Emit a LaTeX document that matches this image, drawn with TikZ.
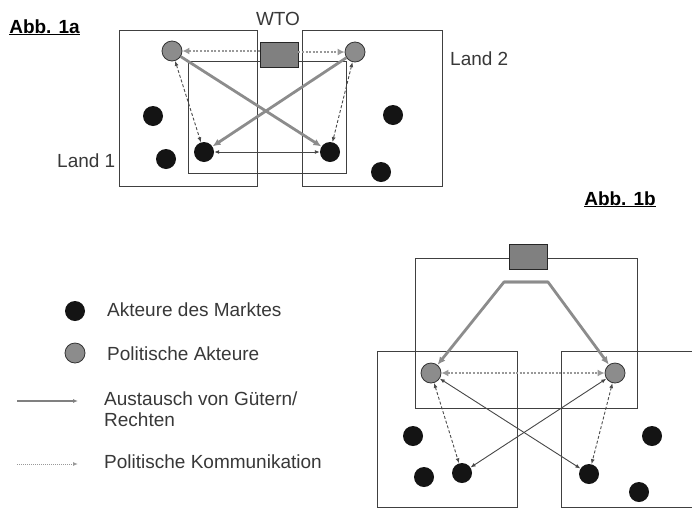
\documentclass[tikz,border=0pt]{standalone}
\usepackage{fontspec}
\setmainfont{Liberation Sans}
\usetikzlibrary{arrows.meta}

\tikzset{
  markt/.style={circle, fill=black!92, minimum size=20pt, inner sep=0pt},
  politik/.style={circle, draw=black!80, line width=0.8pt, fill=black!45, minimum size=20pt, inner sep=0pt},
  wtobox/.style={draw=black!85, line width=0.9pt, fill=black!50, minimum width=38pt, minimum height=25pt, inner sep=0pt},
  land/.style={draw=black!75, line width=1pt},
  gueter/.style={draw=black!45, line width=2.8pt, -{Latex[length=8pt,width=7pt]}},
  kommwto/.style={draw=black!40, line width=2.8pt, dash pattern=on 2pt off 1.6pt, -{Latex[length=7pt,width=7pt]}},
  komm/.style={draw=black!70, line width=0.9pt, dash pattern=on 3pt off 2pt, {Latex[length=5pt,width=4pt]}-{Latex[length=5pt,width=4pt]}},
  handel/.style={draw=black!72, line width=0.9pt, {Latex[length=5pt,width=4pt]}-{Latex[length=5pt,width=4pt]}},
  txt/.style={font=\fontsize{19}{21}\selectfont, text=black!78, inner sep=0pt},
  abb/.style={font=\fontsize{19}{22}\selectfont\bfseries, inner sep=0pt}
}

\begin{document}
\begin{tikzpicture}[x=1pt, y=-1pt]
\useasboundingbox (0,0) rectangle (692,509);

% Abb. 1a
\node[abb, anchor=base] (abbA) at (44.5,33) {\underline{Abb. 1a}};
\draw[land] (119,30) rectangle (257,186);
\draw[land] (302,30) rectangle (442,186);
\draw[land] (188,61) rectangle (346,173);
\node[wtobox] (wtoA) at (279,54.5) {};
\node[txt, anchor=base] (wtoAtext) at (278,25) {WTO};
\node[txt, anchor=base west] (land1A) at (57,167) {Land 1};
\node[txt, anchor=base west] (land2A) at (450,65) {Land 2};

\node[politik] (gA1) at (172,51) {};
\node[politik] (gA2) at (355,52) {};
\node[markt] (mA1) at (153,116) {};
\node[markt] (mA2) at (166,159) {};
\node[markt] (mA3) at (204,152) {};
\node[markt] (mA4) at (330,152) {};
\node[markt] (mA5) at (393,115) {};
\node[markt] (mA6) at (381,172) {};

\draw[kommwto] (wtoA.west |- gA1) -- (gA1);
\draw[kommwto] (wtoA.east |- gA2) -- (gA2);
\draw[gueter] (gA1) -- (mA4);
\draw[gueter] (gA2) -- (mA3);
\draw[komm] (gA1) -- (mA3);
\draw[komm] (gA2) -- (mA4);
\draw[handel] (mA3) -- (mA4);

% Abb. 1b
\node[abb, anchor=base] (abbB) at (620,205) {\underline{Abb. 1b}};
\draw[land] (415,258) rectangle (637,408);
\draw[land] (377,351) rectangle (517,507);
\draw[land] (692,351) -- (561,351) -- (561,507) -- (692,507);
\node[wtobox] (wtoB) at (528.5,256.5) {};

\node[politik] (gB1) at (431,373) {};
\node[politik] (gB2) at (615,373) {};
\node[markt] (mB1) at (413,436) {};
\node[markt] (mB2) at (424,477) {};
\node[markt] (mB3) at (462,473) {};
\node[markt] (mB4) at (652,436) {};
\node[markt] (mB5) at (639,492) {};
\node[markt] (mB6) at (589,474) {};

\coordinate (kB1) at (504,282);
\coordinate (kB2) at (548,282);
\draw[gueter, line join=round] (kB2) -- (kB1) -- (gB1);
\draw[gueter, line join=round] (kB1) -- (kB2) -- (gB2);
\draw[kommwto, {Latex[length=7pt,width=7pt]}-{Latex[length=7pt,width=7pt]}] (gB1) -- (gB2);
\draw[handel] (gB1) -- (mB6);
\draw[handel] (gB2) -- (mB3);
\draw[komm] (gB1) -- (mB3);
\draw[komm] (gB2) -- (mB6);

% Legende
\node[markt] (legM) at (75,311) {};
\node[txt, anchor=base west] (legMtext) at (107,316) {Akteure des Marktes};
\node[politik] (legP) at (75,353) {};
\node[txt, anchor=base west] (legPtext) at (107,360) {Politische Akteure};
\coordinate (legG1) at (17,401);
\coordinate (legG2) at (78,401);
\draw[draw=black!50, line width=1.1pt, -{Latex[length=5pt,width=4pt]}] (legG1) -- (legG2);
\node[txt, anchor=base west, align=left] (legGtext) at (104,426) {Austausch von Gütern/\\Rechten};
\coordinate (legK1) at (17,464);
\coordinate (legK2) at (78,464);
\draw[draw=black!40, line width=1pt, dash pattern=on 1pt off 1pt, -{Latex[length=5pt,width=4pt]}] (legK1) -- (legK2);
\node[txt, anchor=base west] (legKtext) at (104,468) {Politische Kommunikation};
\end{tikzpicture}
\end{document}
